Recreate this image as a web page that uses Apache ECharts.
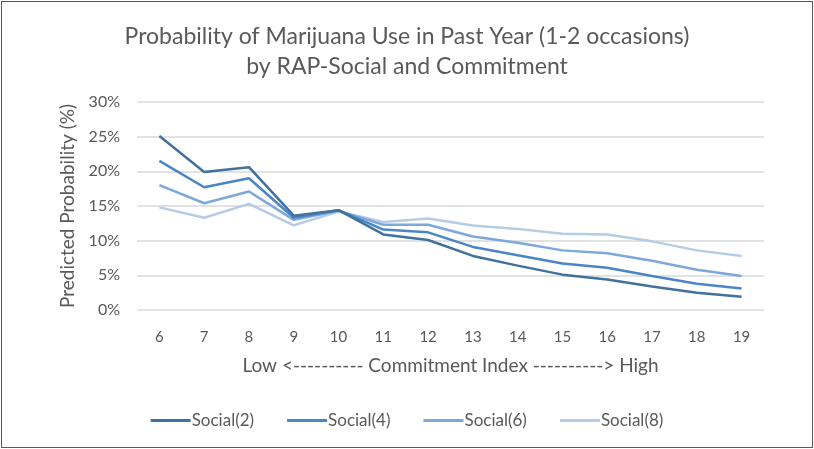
<!DOCTYPE html>
<html>
<head>
<meta charset="utf-8">
<script src="https://cdn.jsdelivr.net/npm/echarts@6/dist/echarts.min.js"></script>
<style>
  html, body { margin: 0; padding: 0; background: #fff; }
  #frame { position: absolute; left: 1px; top: 1px; width: 810px; height: 445px; border: 1px solid #595959; box-sizing: content-box; }
  #chart { width: 814px; height: 449px; position: absolute; left: 0; top: 0; }
</style>
</head>
<body>
<div id="frame"></div>
<div id="chart"></div>
<script>
// Commitment index levels on the x axis
const commitment = ['6', '7', '8', '9', '10', '11', '12', '13', '14', '15', '16', '17', '18', '19'];

// Predicted probability (%) for each RAP-Social level
const social2 = [25.1, 19.9, 20.6, 13.6, 14.4, 10.9, 10.1, 7.8, 6.4, 5.1, 4.4, 3.4, 2.5, 1.9];
const social4 = [21.5, 17.7, 19.0, 13.3, 14.4, 11.6, 11.2, 9.1, 7.9, 6.7, 6.1, 4.9, 3.8, 3.1];
const social6 = [18.0, 15.4, 17.1, 13.0, 14.3, 12.3, 12.3, 10.6, 9.7, 8.6, 8.2, 7.1, 5.8, 4.9];
const social8 = [14.8, 13.3, 15.3, 12.2, 14.2, 12.7, 13.2, 12.2, 11.7, 11.0, 10.9, 9.9, 8.6, 7.8];

const seriesNames = ['Social(2)', 'Social(4)', 'Social(6)', 'Social(8)'];
const seriesValues = [social2, social4, social6, social8];
const seriesColors = ['#41719C', '#4A86C5', '#7DA8DA', '#B5CCE8'];

const yTicks = { min: 0, max: 30, interval: 5 };

const font = 'Lato, "Noto Sans", sans-serif';
const textColor = '#595959';

const chart = echarts.init(document.getElementById('chart'), null, { renderer: 'canvas' });

chart.setOption({
  animation: false,
  title: {
    text: 'Probability of Marijuana Use in Past Year (1-2 occasions)\nby RAP-Social and Commitment',
    left: 'center',
    top: 17,
    textStyle: { fontFamily: font, fontWeight: 'normal', fontSize: 23, color: textColor, lineHeight: 30 }
  },
  grid: { left: 137, right: 50, top: 102, bottom: 139 },
  legend: {
    bottom: 15,
    left: 'center',
    itemGap: 33,
    itemWidth: 40,
    itemHeight: 3,
    icon: 'rect',
    data: seriesNames,
    textStyle: { fontFamily: font, fontSize: 17, color: textColor, padding: [0, 0, 0, -4] }
  },
  xAxis: {
    type: 'category',
    data: commitment,
    boundaryGap: true,
    name: 'Low <---------- Commitment Index ----------> High',
    nameLocation: 'middle',
    nameGap: 46,
    nameTextStyle: { fontFamily: font, fontSize: 19, color: textColor },
    axisLine: { show: false },
    axisTick: { show: false },
    axisLabel: { fontFamily: font, fontSize: 15, color: textColor, margin: 20 }
  },
  yAxis: {
    type: 'value',
    min: yTicks.min,
    max: yTicks.max,
    interval: yTicks.interval,
    name: 'Predicted Probability (%)',
    nameLocation: 'middle',
    nameGap: 60,
    nameTextStyle: { fontFamily: font, fontSize: 19, color: textColor },
    axisLine: { show: false },
    axisTick: { show: false },
    axisLabel: { fontFamily: font, fontSize: 16, color: textColor, margin: 17, formatter: v => v + '%' },
    splitLine: { lineStyle: { color: '#D9D9D9', width: 1.5 } }
  },
  series: seriesNames.map((name, i) => ({
    name: name,
    type: 'line',
    data: seriesValues[i],
    symbol: 'none',
    color: seriesColors[i],
    lineStyle: { width: 2.5, color: seriesColors[i] },
    z: 10 - i
  }))
});
</script>
</body>
</html>
